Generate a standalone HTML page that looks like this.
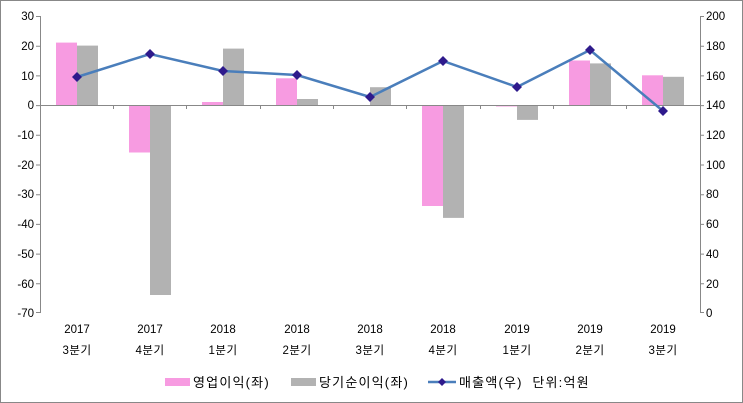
<!DOCTYPE html>
<html><head><meta charset="utf-8"><style>
body{margin:0;background:#fff}
svg{display:block}
text{font-family:"Liberation Sans","Noto Sans CJK KR",sans-serif;font-size:11.5px;fill:#000}
.k{font-size:12.5px;letter-spacing:0.5px}
.lg{font-size:13px;letter-spacing:1.2px}
</style></head><body>
<svg width="743" height="403" viewBox="0 0 743 403">
<rect x="0.5" y="0.5" width="742" height="402" fill="#fff" stroke="#888"/>
<g fill="#F79BE1">
<rect x="56" y="42.6" width="21" height="62.4"/>
<rect x="129" y="105" width="21" height="47.5"/>
<rect x="202" y="102" width="21" height="3"/>
<rect x="276" y="78.3" width="21" height="26.7"/>
<rect x="422" y="105" width="21" height="101"/>
<rect x="496" y="105" width="21" height="1.5"/>
<rect x="569" y="60.5" width="21" height="44.5"/>
<rect x="642" y="75.3" width="21" height="29.7"/>
</g>
<g fill="#B2B2B2">
<rect x="77" y="45.6" width="21" height="59.4"/>
<rect x="150" y="105" width="21" height="190"/>
<rect x="223" y="48.6" width="21" height="56.4"/>
<rect x="297" y="99" width="21" height="6"/>
<rect x="370" y="87.2" width="21" height="17.8"/>
<rect x="443" y="105" width="21" height="112.9"/>
<rect x="517" y="105" width="21" height="14.9"/>
<rect x="590" y="63.4" width="21" height="41.6"/>
<rect x="663" y="76.8" width="21" height="28.2"/>
</g>
<g stroke="#888" stroke-width="1" fill="none">
<line x1="40.5" y1="16" x2="40.5" y2="313"/>
<line x1="700.5" y1="16" x2="700.5" y2="313"/>
<line x1="40" y1="105.5" x2="700" y2="105.5"/>
<path d="M36 16.5h4M36 46.2h4M36 75.9h4M36 105.6h4M36 135.3h4M36 165h4M36 194.7h4M36 224.4h4M36 254.1h4M36 283.8h4M36 312.5h4"/>
<path d="M700 16.5h4M700 46.2h4M700 75.9h4M700 105.6h4M700 135.3h4M700 165h4M700 194.7h4M700 224.4h4M700 254.1h4M700 283.8h4M700 312.5h4"/>
<path d="M113.5 105v4M186.5 105v4M260.5 105v4M333.5 105v4M406.5 105v4M480.5 105v4M553.5 105v4M626.5 105v4"/>
</g>
<g text-anchor="end">
<text x="34" y="20">30</text><text x="34" y="50">20</text><text x="34" y="80">10</text><text x="34" y="109">0</text>
<text x="34" y="139">-10</text><text x="34" y="169">-20</text><text x="34" y="198">-30</text><text x="34" y="228">-40</text>
<text x="34" y="258">-50</text><text x="34" y="288">-60</text><text x="34" y="317">-70</text>
</g>
<g text-anchor="start">
<text x="706" y="20">200</text><text x="706" y="50">180</text><text x="706" y="80">160</text><text x="706" y="109">140</text>
<text x="706" y="139">120</text><text x="706" y="169">100</text><text x="706" y="198">80</text><text x="706" y="228">60</text>
<text x="706" y="258">40</text><text x="706" y="288">20</text><text x="706" y="317">0</text>
</g>
<g text-anchor="middle">
<text x="77" y="333">2017</text><text x="150" y="333">2017</text><text x="223" y="333">2018</text><text x="297" y="333">2018</text><text x="370" y="333">2018</text><text x="443" y="333">2018</text><text x="517" y="333">2019</text><text x="590" y="333">2019</text><text x="663" y="333">2019</text>
</g>
<g text-anchor="middle" class="k">
<text x="77" y="354">3분기</text><text x="150" y="354">4분기</text><text x="223" y="354">1분기</text><text x="297" y="354">2분기</text><text x="370" y="354">3분기</text><text x="443" y="354">4분기</text><text x="517" y="354">1분기</text><text x="590" y="354">2분기</text><text x="663" y="354">3분기</text>
</g>
<polyline points="77,77 150,54 223,71 297,75 370,97 443,61 517,87 590,50 663,111" fill="none" stroke="#4A7EBB" stroke-width="2.5"/>
<g fill="#2E1A8C">
<path d="M77 72l5 5-5 5-5-5z"/><path d="M150 49l5 5-5 5-5-5z"/><path d="M223 66l5 5-5 5-5-5z"/><path d="M297 70l5 5-5 5-5-5z"/><path d="M370 92l5 5-5 5-5-5z"/><path d="M443 56l5 5-5 5-5-5z"/><path d="M517 82l5 5-5 5-5-5z"/><path d="M590 45l5 5-5 5-5-5z"/><path d="M663 106l5 5-5 5-5-5z"/>
</g>
<rect x="165" y="378" width="25" height="8" fill="#F79BE1"/>
<text class="lg" x="193" y="387">영업이익(좌)</text>
<rect x="291" y="378" width="25" height="8" fill="#B2B2B2"/>
<text class="lg" x="319" y="387">당기순이익(좌)</text>
<line x1="428" y1="382" x2="456" y2="382" stroke="#4A7EBB" stroke-width="2.5"/>
<path d="M442 378l4 4-4 4-4-4z" fill="#2E1A8C"/>
<text class="lg" x="459" y="387" xml:space="preserve">매출액(우)  단위:억원</text>
</svg>
</body></html>
